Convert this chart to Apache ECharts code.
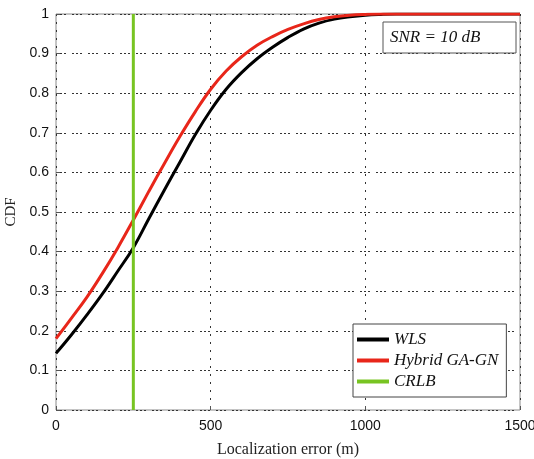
<!DOCTYPE html>
<html style="height: 100%">
  <head>
    <meta charset="UTF-8" />
    <title>CDF</title>
    <script src="https://cdn.jsdelivr.net/npm/echarts@6.0.0/dist/echarts.min.js"></script>
  </head>
  <body style="height: 100%; margin: 0; background-color: #fff">
    <div id="main" style="width: 534px; height: 459px"></div>
    <script type="text/javascript">
      // localization error (m)
      var errX = [0, 50, 100, 150, 200, 250, 300, 350, 400, 450, 500, 550, 600, 650, 700, 750, 800, 850, 900, 950, 1000, 1050, 1100, 1500];
      var wlsCdf = [0.143, 0.19, 0.24, 0.293, 0.351, 0.41, 0.483, 0.555, 0.625, 0.695, 0.757, 0.81, 0.852, 0.887, 0.916, 0.941, 0.962, 0.977, 0.987, 0.993, 0.997, 0.999, 1, 1];
      var hybridCdf = [0.18, 0.232, 0.285, 0.345, 0.41, 0.48, 0.552, 0.622, 0.69, 0.753, 0.81, 0.856, 0.892, 0.921, 0.943, 0.961, 0.975, 0.986, 0.993, 0.997, 0.999, 1, 1, 1];
      var crlbX = 250;
      var crlbY = [0, 1];

      function pairs(xs, ys) {
        return xs.map(function (x, i) {
          return [x, ys[i]];
        });
      }

      var chartDom = document.getElementById("main");
      var myChart = echarts.init(chartDom);
      var serifFont = '"Liberation Serif", "DejaVu Serif", serif';
      var sansFont = '"Liberation Sans", Arial, sans-serif';
      var option = {
        animation: false,
        grid: {
          left: 56,
          top: 14,
          right: 14,
          bottom: 49,
          outerBoundsMode: "none",
          show: true,
          borderColor: "#8a8a8a",
          borderWidth: 1,
        },
        legend: {
          orient: "vertical",
          left: 353,
          top: 324,
          padding: [7, 8, 7, 4],
          itemGap: 4,
          itemWidth: 32,
          itemHeight: 4,
          icon: "rect",
          borderColor: "#444",
          borderWidth: 1,
          backgroundColor: "#fff",
          textStyle: {
            fontFamily: serifFont,
            fontStyle: "italic",
            fontSize: 17,
            color: "#111",
          },
          data: ["WLS", "Hybrid GA-GN", "CRLB"],
        },
        graphic: [
          {
            type: "rect",
            shape: { x: 383, y: 22, width: 133, height: 31 },
            style: { fill: "#fff", stroke: "#555", lineWidth: 1 },
            z: 10,
          },
          {
            type: "text",
            x: 390,
            y: 38,
            style: {
              text: "SNR = 10 dB",
              font: "italic 17px " + serifFont,
              fill: "#111",
              align: "left",
              verticalAlign: "middle",
            },
            z: 11,
          },
        ],
        xAxis: {
          type: "value",
          min: 0,
          max: 1500,
          interval: 500,
          name: "Localization error (m)",
          nameLocation: "middle",
          nameGap: 32,
          nameTextStyle: { fontFamily: serifFont, fontSize: 16, color: "#222" },
          axisLine: { show: false },
          axisTick: { inside: true, length: 4, lineStyle: { color: "#555" } },
          axisLabel: {
            margin: 9,
            fontFamily: sansFont,
            fontSize: 14,
            color: "#111",
            formatter: function (v) {
              return String(v);
            },
          },
          splitLine: {
            show: true,
            lineStyle: { color: "#333", type: [2, 6], width: 1 },
          },
        },
        yAxis: {
          type: "value",
          min: 0,
          max: 1,
          interval: 0.1,
          name: "CDF",
          nameLocation: "middle",
          nameGap: 32,
          nameTextStyle: { fontFamily: serifFont, fontSize: 15, color: "#222" },
          axisLine: { show: false },
          axisTick: { inside: true, length: 4, lineStyle: { color: "#555" } },
          axisLabel: {
            margin: 7,
            fontFamily: sansFont,
            fontSize: 14,
            color: "#111",
          },
          splitLine: {
            show: true,
            lineStyle: { color: "#333", type: [2, 2, 2, 2, 2, 6], width: 1 },
          },
        },
        series: [
          {
            name: "WLS",
            type: "line",
            smooth: 0.4,
            showSymbol: false,
            data: pairs(errX, wlsCdf),
            lineStyle: { color: "#000", width: 3 },
            itemStyle: { color: "#000" },
          },
          {
            name: "Hybrid GA-GN",
            type: "line",
            smooth: 0.4,
            showSymbol: false,
            data: pairs(errX, hybridCdf),
            lineStyle: { color: "#e8261a", width: 3 },
            itemStyle: { color: "#e8261a" },
          },
          {
            name: "CRLB",
            type: "line",
            showSymbol: false,
            data: crlbY.map(function (y) {
              return [crlbX, y];
            }),
            lineStyle: { color: "#78c422", width: 3 },
            itemStyle: { color: "#78c422" },
          },
        ],
      };
      myChart.setOption(option);
    </script>
  </body>
</html>
